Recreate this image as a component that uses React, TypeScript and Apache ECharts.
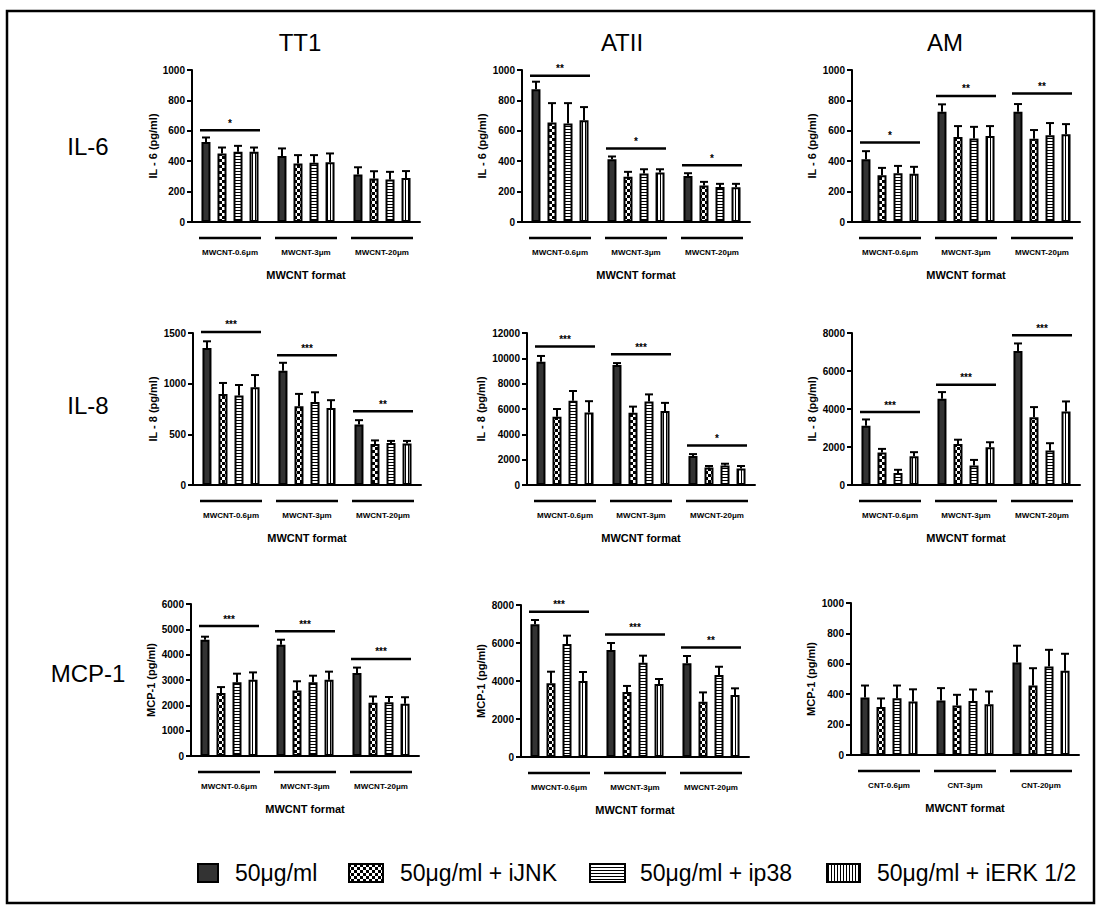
import React, { useEffect, useRef } from "react";
import * as echarts from "echarts";

const FONT = "'Liberation Sans', Arial, Helvetica, sans-serif";

// ---------------- data ----------------
const seriesNames = ["50μg/ml", "50μg/ml + iJNK", "50μg/ml + ip38", "50μg/ml + iERK 1/2"];
const mwcntGroups = ["MWCNT-0.6μm", "MWCNT-3μm", "MWCNT-20μm"];
const cntGroups = ["CNT-0.6μm", "CNT-3μm", "CNT-20μm"];
const columnTitles = ["TT1", "ATII", "AM"];
const rowTitles = ["IL-6", "IL-8", "MCP-1"];
const xAxisTitle = "MWCNT format";

// values per group: [50μg/ml, +iJNK, +ip38, +iERK 1/2]; errors = top of error bar
const tt1Il6Values = [[527, 450, 462, 462], [435, 385, 389, 393], [312, 286, 280, 290]];
const tt1Il6Errors = [[556, 490, 501, 490], [484, 440, 440, 451], [360, 334, 330, 335]];
const tt1Il6Sig = [604, null, null];
const tt1Il6Stars = ["*", "", ""];

const atiiIl6Values = [[873, 655, 648, 670], [413, 297, 319, 325], [303, 240, 231, 229]];
const atiiIl6Errors = [[923, 782, 782, 756], [431, 330, 347, 347], [321, 264, 251, 251]];
const atiiIl6Sig = [962, 483, 374];
const atiiIl6Stars = ["**", "*", "*"];

const amIl6Values = [[413, 308, 321, 317], [725, 560, 549, 565], [725, 547, 571, 578]];
const amIl6Errors = [[466, 356, 369, 363], [774, 631, 626, 631], [776, 605, 651, 644]];
const amIl6Sig = [523, 829, 846];
const amIl6Stars = ["*", "**", "**"];

const tt1Il8Values = [[1353, 899, 882, 964], [1127, 778, 820, 761], [598, 405, 415, 410]];
const tt1Il8Errors = [[1418, 1007, 987, 1085], [1206, 899, 915, 837], [640, 440, 435, 435]];
const tt1Il8Sig = [1510, 1281, 729];
const tt1Il8Stars = ["***", "***", "**"];

const atiiIl8Values = [[9732, 5383, 6643, 5732], [9464, 5705, 6590, 5840], [2290, 1380, 1530, 1300]];
const atiiIl8Errors = [[10187, 6000, 7420, 6617], [9625, 6188, 7153, 6483], [2440, 1500, 1680, 1500]];
const atiiIl8Sig = [10930, 10320, 3110];
const atiiIl8Stars = ["***", "***", "*"];

const amIl8Values = [[3117, 1710, 628, 1518], [4541, 2157, 1023, 1990], [7047, 3560, 1815, 3874]];
const amIl8Errors = [[3450, 1900, 800, 1728], [4890, 2384, 1320, 2250], [7450, 4100, 2200, 4398]];
const amIl8Sig = [3840, 5270, 7880];
const amIl8Stars = ["***", "***", "***"];

const tt1Mcp1Values = [[4590, 2485, 2910, 3013], [4394, 2590, 2910, 3013], [3280, 2105, 2120, 2060]];
const tt1Mcp1Errors = [[4710, 2720, 3250, 3300], [4590, 2950, 3170, 3330], [3490, 2350, 2330, 2320]];
const tt1Mcp1Sig = [5130, 4920, 3830];
const tt1Mcp1Stars = ["***", "***", "***"];

const atiiMcp1Values = [[6982, 3877, 5947, 4000], [5632, 3420, 4965, 3842], [4930, 2912, 4316, 3263]];
const atiiMcp1Errors = [[7210, 4490, 6386, 4474], [6000, 3740, 5333, 4105], [5316, 3400, 4750, 3614]];
const atiiMcp1Sig = [7650, 6450, 5760];
const atiiMcp1Stars = ["***", "***", "**"];

const amMcp1Values = [[378, 316, 374, 352], [358, 325, 356, 334], [609, 457, 582, 554]];
const amMcp1Errors = [[457, 372, 457, 432], [440, 396, 431, 418], [719, 571, 692, 666]];
const amMcp1Sig = [null, null, null];
const amMcp1Stars = ["", "", ""];

// ---------------- layout ----------------
const GRID_W = 228;
const GRID_H = 152;
const BAR_W = 9;
const BAR_STEP = 16;

const panels = [
  { values: tt1Il6Values, errors: tt1Il6Errors, sig: tt1Il6Sig, stars: tt1Il6Stars, max: 1000, interval: 200, yName: "IL - 6 (pg/ml)", cats: mwcntGroups, left: 192, top: 70, nameGap: 34 },
  { values: atiiIl6Values, errors: atiiIl6Errors, sig: atiiIl6Sig, stars: atiiIl6Stars, max: 1000, interval: 200, yName: "IL - 6 (pg/ml)", cats: mwcntGroups, left: 522, top: 70, nameGap: 35 },
  { values: amIl6Values, errors: amIl6Errors, sig: amIl6Sig, stars: amIl6Stars, max: 1000, interval: 200, yName: "IL - 6 (pg/ml)", cats: mwcntGroups, left: 852, top: 70, nameGap: 35 },
  { values: tt1Il8Values, errors: tt1Il8Errors, sig: tt1Il8Sig, stars: tt1Il8Stars, max: 1500, interval: 500, yName: "IL - 8 (pg/ml)", cats: mwcntGroups, left: 193, top: 333, nameGap: 35 },
  { values: atiiIl8Values, errors: atiiIl8Errors, sig: atiiIl8Sig, stars: atiiIl8Stars, max: 12000, interval: 2000, yName: "IL - 8 (pg/ml)", cats: mwcntGroups, left: 527, top: 333, nameGap: 41 },
  { values: amIl8Values, errors: amIl8Errors, sig: amIl8Sig, stars: amIl8Stars, max: 8000, interval: 2000, yName: "IL - 8 (pg/ml)", cats: mwcntGroups, left: 852, top: 333, nameGap: 35 },
  { values: tt1Mcp1Values, errors: tt1Mcp1Errors, sig: tt1Mcp1Sig, stars: tt1Mcp1Stars, max: 6000, interval: 1000, yName: "MCP-1 (pg/ml)", cats: mwcntGroups, left: 191, top: 604, nameGap: 35 },
  { values: atiiMcp1Values, errors: atiiMcp1Errors, sig: atiiMcp1Sig, stars: atiiMcp1Stars, max: 8000, interval: 2000, yName: "MCP-1 (pg/ml)", cats: mwcntGroups, left: 521, top: 605, nameGap: 35 },
  { values: amMcp1Values, errors: amMcp1Errors, sig: amMcp1Sig, stars: amMcp1Stars, max: 1000, interval: 200, yName: "MCP-1 (pg/ml)", cats: cntGroups, left: 851, top: 603, nameGap: 35 },
];

function makePattern(kind: string): any {
  const c = document.createElement("canvas");
  let w = 6;
  let h = 6;
  if (kind === "hstripe") { w = 4; h = 3; }
  if (kind === "vstripe") { w = 3; h = 4; }
  c.width = w;
  c.height = h;
  const ctx = c.getContext("2d") as CanvasRenderingContext2D;
  ctx.fillStyle = "#ffffff";
  ctx.fillRect(0, 0, w, h);
  ctx.fillStyle = "#000000";
  if (kind === "checker") {
    ctx.fillRect(0, 0, 3, 3);
    ctx.fillRect(3, 3, 3, 3);
  } else if (kind === "hstripe") {
    ctx.fillRect(0, 0, w, 1);
  } else {
    ctx.fillRect(0, 0, 1, h);
  }
  return { image: c, repeat: "repeat" };
}

function buildOption(): any {
  const fills = ["#333333", makePattern("checker"), makePattern("hstripe"), makePattern("vstripe")];
  const black = "#000";

  const grid = panels.map((p) => ({ left: p.left, top: p.top, width: GRID_W, height: GRID_H }));
  const xAxis = panels.map((p, i) => ({
    type: "category",
    gridIndex: i,
    data: p.cats,
    axisLine: { lineStyle: { color: black, width: 2 } },
    axisTick: { show: false },
    axisLabel: { color: black, fontSize: 8, fontWeight: "bold", fontFamily: FONT, margin: 26, interval: 0 },
    name: xAxisTitle,
    nameLocation: "middle",
    nameGap: 47,
    nameTextStyle: { color: black, fontSize: 11, fontWeight: "bold", fontFamily: FONT },
  }));
  const yAxis = panels.map((p, i) => ({
    type: "value",
    gridIndex: i,
    min: 0,
    max: p.max,
    interval: p.interval,
    splitLine: { show: false },
    axisLine: { show: true, lineStyle: { color: black, width: 2 } },
    axisTick: { show: true, length: 5, lineStyle: { color: black, width: 2 } },
    axisLabel: { color: black, fontSize: 10, fontWeight: "bold", fontFamily: FONT, margin: 7, formatter: (v: number) => String(v) },
    name: p.yName,
    nameLocation: "middle",
    nameGap: p.nameGap,
    nameTextStyle: { color: black, fontSize: 11, fontWeight: "bold", fontFamily: FONT },
  }));

  const series: any[] = [];
  panels.forEach((p, i) => {
    for (let s = 0; s < 4; s++) {
      series.push({
        type: "bar",
        name: seriesNames[s],
        xAxisIndex: i,
        yAxisIndex: i,
        data: p.values.map((g) => g[s]),
        barWidth: BAR_W,
        barGap: "78%",
        silent: true,
        z: 2,
        itemStyle: { color: fills[s], borderColor: black, borderWidth: 2 },
      });
    }
    const errData: number[][] = [];
    p.values.forEach((g, gi) => g.forEach((v, s) => errData.push([gi, v, p.errors[gi][s], s])));
    series.push({
      type: "custom",
      xAxisIndex: i,
      yAxisIndex: i,
      silent: true,
      z: 3,
      data: errData,
      encode: { x: 0, y: [1, 2] },
      renderItem: (params: any, api: any) => {
        const g = api.value(0);
        const v = api.value(1);
        const e = api.value(2);
        const s = api.value(3);
        const p0 = api.coord([g, v]);
        const p1 = api.coord([g, e]);
        const x = p0[0] + (s - 1.5) * BAR_STEP;
        const st = { stroke: black, lineWidth: 2 };
        return {
          type: "group",
          children: [
            { type: "line", shape: { x1: x, y1: p0[1], x2: x, y2: p1[1] }, style: st },
            { type: "line", shape: { x1: x - 4, y1: p1[1], x2: x + 4, y2: p1[1] }, style: st },
          ],
        };
      },
    });
    const sigData: number[][] = [];
    const sigStars: string[] = [];
    p.sig.forEach((y, gi) => {
      if (y != null) {
        sigData.push([gi, y as number]);
        sigStars.push(p.stars[gi]);
      }
    });
    if (sigData.length) {
      series.push({
        type: "custom",
        xAxisIndex: i,
        yAxisIndex: i,
        silent: true,
        z: 3,
        data: sigData,
        encode: { x: 0, y: 1 },
        renderItem: (params: any, api: any) => {
          const c = api.coord([api.value(0), api.value(1)]);
          return {
            type: "group",
            children: [
              { type: "line", shape: { x1: c[0] - 30, y1: c[1], x2: c[0] + 30, y2: c[1] }, style: { stroke: black, lineWidth: 2.5 } },
              {
                type: "text",
                x: c[0],
                y: c[1] - 2,
                style: { text: sigStars[params.dataIndex], fill: black, font: "bold 10px " + FONT, align: "center", verticalAlign: "bottom" },
              },
            ],
          };
        },
      });
    }
    series.push({
      type: "custom",
      xAxisIndex: i,
      yAxisIndex: i,
      silent: true,
      z: 3,
      data: p.cats.map((_, gi) => [gi, 0]),
      encode: { x: 0, y: 1 },
      renderItem: (params: any, api: any) => {
        const c = api.coord([api.value(0), 0]);
        return { type: "line", shape: { x1: c[0] - 31, y1: c[1] + 16, x2: c[0] + 31, y2: c[1] + 16 }, style: { stroke: black, lineWidth: 2.5 } };
      },
    });
  });

  const graphic: any[] = [];
  graphic.push({ type: "rect", shape: { x: 7, y: 11, width: 1087, height: 892 }, style: { fill: "none", stroke: black, lineWidth: 2.5 }, silent: true });
  const titleX = [300, 622, 945];
  columnTitles.forEach((t, i) => {
    graphic.push({ type: "text", x: titleX[i], y: 42, style: { text: t, fill: black, font: "24px " + FONT, align: "center", verticalAlign: "middle" } });
  });
  const rowY = [146, 405, 673];
  rowTitles.forEach((t, i) => {
    graphic.push({ type: "text", x: 88, y: rowY[i], style: { text: t, fill: black, font: "24px " + FONT, align: "center", verticalAlign: "middle" } });
  });
  const legIconX = [198, 349, 590, 827];
  const legIconW = [20, 34, 35, 33];
  const legTextX = [235, 400, 640, 877];
  seriesNames.forEach((n, s) => {
    graphic.push({ type: "rect", shape: { x: legIconX[s], y: 864, width: legIconW[s], height: 18 }, style: { fill: fills[s], stroke: black, lineWidth: 2 } });
    graphic.push({ type: "text", x: legTextX[s], y: 873, style: { text: n, fill: black, font: "23px " + FONT, align: "left", verticalAlign: "middle" } });
  });

  return {
    animation: false,
    backgroundColor: "#ffffff",
    textStyle: { fontFamily: FONT },
    grid,
    xAxis,
    yAxis,
    series,
    graphic,
  };
}

export default function App() {
  const ref = useRef<HTMLDivElement>(null);
  useEffect(() => {
    document.body.style.margin = "0";
    if (!ref.current) return;
    const chart = echarts.init(ref.current, undefined, { renderer: "svg" });
    chart.setOption(buildOption());
    return () => chart.dispose();
  }, []);
  return <div ref={ref} style={{ width: 1096, height: 907 }} />;
}
